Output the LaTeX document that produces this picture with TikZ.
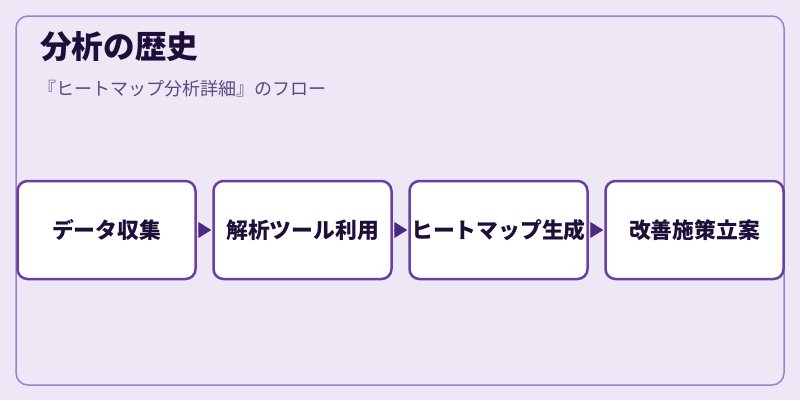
\documentclass[tikz,border=0pt]{standalone}
\usepackage{fontspec}
\setmainfont{Noto Sans CJK JP}
\usetikzlibrary{positioning,arrows.meta}
\definecolor{bgpurple}{HTML}{EEE7F6}
\definecolor{framepurple}{HTML}{9B7FD0}
\definecolor{boxpurple}{HTML}{6A3FA0}
\definecolor{arrowpurple}{HTML}{4B2A7F}
\definecolor{titleink}{HTML}{1E0E3A}
\definecolor{subink}{HTML}{5A4A80}
\tikzset{
  stepbox/.style={draw=boxpurple, fill=white, line width=2.5pt, rounded corners=10pt,
    minimum width=178pt, minimum height=98pt, inner sep=0pt,
    font=\fontsize{21.8}{26}\selectfont\bfseries, text=titleink},
  flowarrow/.style={draw=arrowpurple, line width=1pt,
    -{Triangle[length=13pt,width=16pt]}, shorten <=1pt, shorten >=1pt}
}
\begin{document}
\begin{tikzpicture}[x=1pt,y=-1pt]
\useasboundingbox (0,0) rectangle (800,400);
\fill[bgpurple] (0,0) rectangle (800,400);
\draw[framepurple, line width=1.5pt, rounded corners=12pt] (16,16) rectangle (784,385);
\node[anchor=west, inner sep=0pt, text=titleink, font=\fontsize{31.6}{36}\selectfont\bfseries] (title) at (40,47) {分析の歴史};
\node[anchor=west, inner sep=0pt, text=subink, font=\fontsize{18}{22}\selectfont] (subtitle) at (38,89) {『ヒートマップ分析詳細』のフロー};
% flow boxes
\node[stepbox] (collect) at (106.5,230) {データ収集};
\node[stepbox, right=15.5pt of collect] (analyze) {解析ツール利用};
\node[stepbox, right=15.5pt of analyze] (heatmap) {ヒートマップ生成};
\node[stepbox, right=15.5pt of heatmap] (improve) {改善施策立案};
\draw[flowarrow] (collect) -- (analyze);
\draw[flowarrow] (analyze) -- (heatmap);
\draw[flowarrow] (heatmap) -- (improve);
\end{tikzpicture}
\end{document}
